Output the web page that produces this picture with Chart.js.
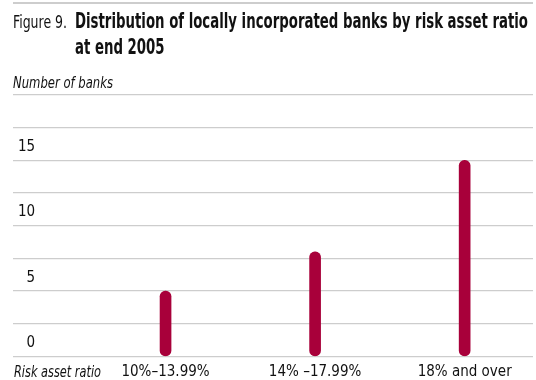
<!DOCTYPE html>
<html>
<head>
<meta charset="utf-8">
<script src="https://cdn.jsdelivr.net/npm/chart.js@4.4.1/dist/chart.umd.min.js"></script>
<style>
  html, body { margin: 0; padding: 0; background: #fff; }
  #wrap { width: 536px; height: 380px; position: relative; }
</style>
</head>
<body>
<div id="wrap"><canvas id="chart" width="536" height="380"></canvas></div>
<script>
// Risk asset ratio bands and the number of locally incorporated banks in each
const categories = ['10%–13.99%', '14% –17.99%', '18% and over'];
const bankCounts = [5, 8, 15];
// Labelled values on the vertical axis (grid lines every 2.5)
const yTickValues = [0, 5, 10, 15];

const figureLabel = 'Figure 9.';
const titleLines = ['Distribution of locally incorporated banks by risk asset ratio', 'at end 2005'];
const yAxisTitle = 'Number of banks';
const xAxisTitle = 'Risk asset ratio';

const NARROW = "'Liberation Sans Narrow', 'DejaVu Sans Condensed', 'Arial Narrow', sans-serif";
const INK = '#111111';
const BAR = '#a8003a';
const GRID = '#cdcdcd';

// Draws a line of text squeezed (or stretched) to a given width
function fitText(ctx, text, x, y, font, width) {
  ctx.save();
  ctx.font = font;
  const w = ctx.measureText(text).width;
  ctx.translate(x, y);
  ctx.scale(width / w, 1);
  ctx.textBaseline = 'alphabetic';
  ctx.textAlign = 'left';
  ctx.fillStyle = INK;
  ctx.fillText(text, 0, 0);
  ctx.restore();
}

const headingPlugin = {
  id: 'heading',
  afterDraw(chart) {
    const ctx = chart.ctx;
    const left = chart.chartArea.left;
    const right = chart.chartArea.right;

    // top rule
    ctx.save();
    ctx.strokeStyle = GRID;
    ctx.lineWidth = 2;
    ctx.beginPath();
    ctx.moveTo(left, 3);
    ctx.lineTo(right, 3);
    ctx.stroke();
    ctx.restore();

    const boldFont = "bold 21px " + NARROW;
    fitText(ctx, figureLabel, left, 28, "17px " + NARROW, 54);

    ctx.save();
    ctx.font = boldFont;
    const sx = 453 / ctx.measureText(titleLines[0]).width;
    const w2 = ctx.measureText(titleLines[1]).width * sx;
    ctx.restore();
    fitText(ctx, titleLines[0], 75, 28, boldFont, 453);
    fitText(ctx, titleLines[1], 75, 54, boldFont, w2);

    fitText(ctx, yAxisTitle, left, 88, "italic 16px " + NARROW, 100);
    fitText(ctx, xAxisTitle, left + 1, 377, "italic 16px " + NARROW, 87);
  }
};

const ctx = document.getElementById('chart').getContext('2d');
new Chart(ctx, {
  type: 'bar',
  data: {
    datasets: [{
      data: categories.map((c, i) => ({ x: i, y: bankCounts[i] })),
      backgroundColor: BAR,
      barThickness: 11,
      borderRadius: 6,
      borderSkipped: false
    }]
  },
  options: {
    responsive: false,
    animation: false,
    devicePixelRatio: 1,
    layout: { padding: { left: 3, right: 3, top: 95, bottom: -7.5 } },
    plugins: {
      legend: { display: false },
      tooltip: { enabled: false },
      title: { display: false }
    },
    scales: {
      x: {
        type: 'linear',
        offset: false,
        min: -1.02,
        max: 2.457,
        afterBuildTicks: (scale) => {
          scale.ticks = categories.map((c, i) => ({ value: i }));
        },
        grid: { display: false, drawTicks: false, offset: false },
        border: { display: false },
        ticks: {
          autoSkip: false,
          maxRotation: 0,
          padding: 6.5,
          color: INK,
          font: { family: NARROW, size: 15 },
          callback: (v) => categories[v] ?? ''
        }
      },
      y: {
        min: 0,
        max: 20,
        grid: { color: GRID, lineWidth: 1.3, drawTicks: false },
        border: { display: false },
        ticks: {
          stepSize: 2.5,
          mirror: true,
          crossAlign: 'far',
          padding: 5,
          labelOffset: -13.5,
          color: INK,
          font: { family: NARROW, size: 15 },
          callback: (v) => yTickValues.includes(v) ? String(v) : ''
        }
      }
    }
  },
  plugins: [headingPlugin]
});
</script>
</body>
</html>
